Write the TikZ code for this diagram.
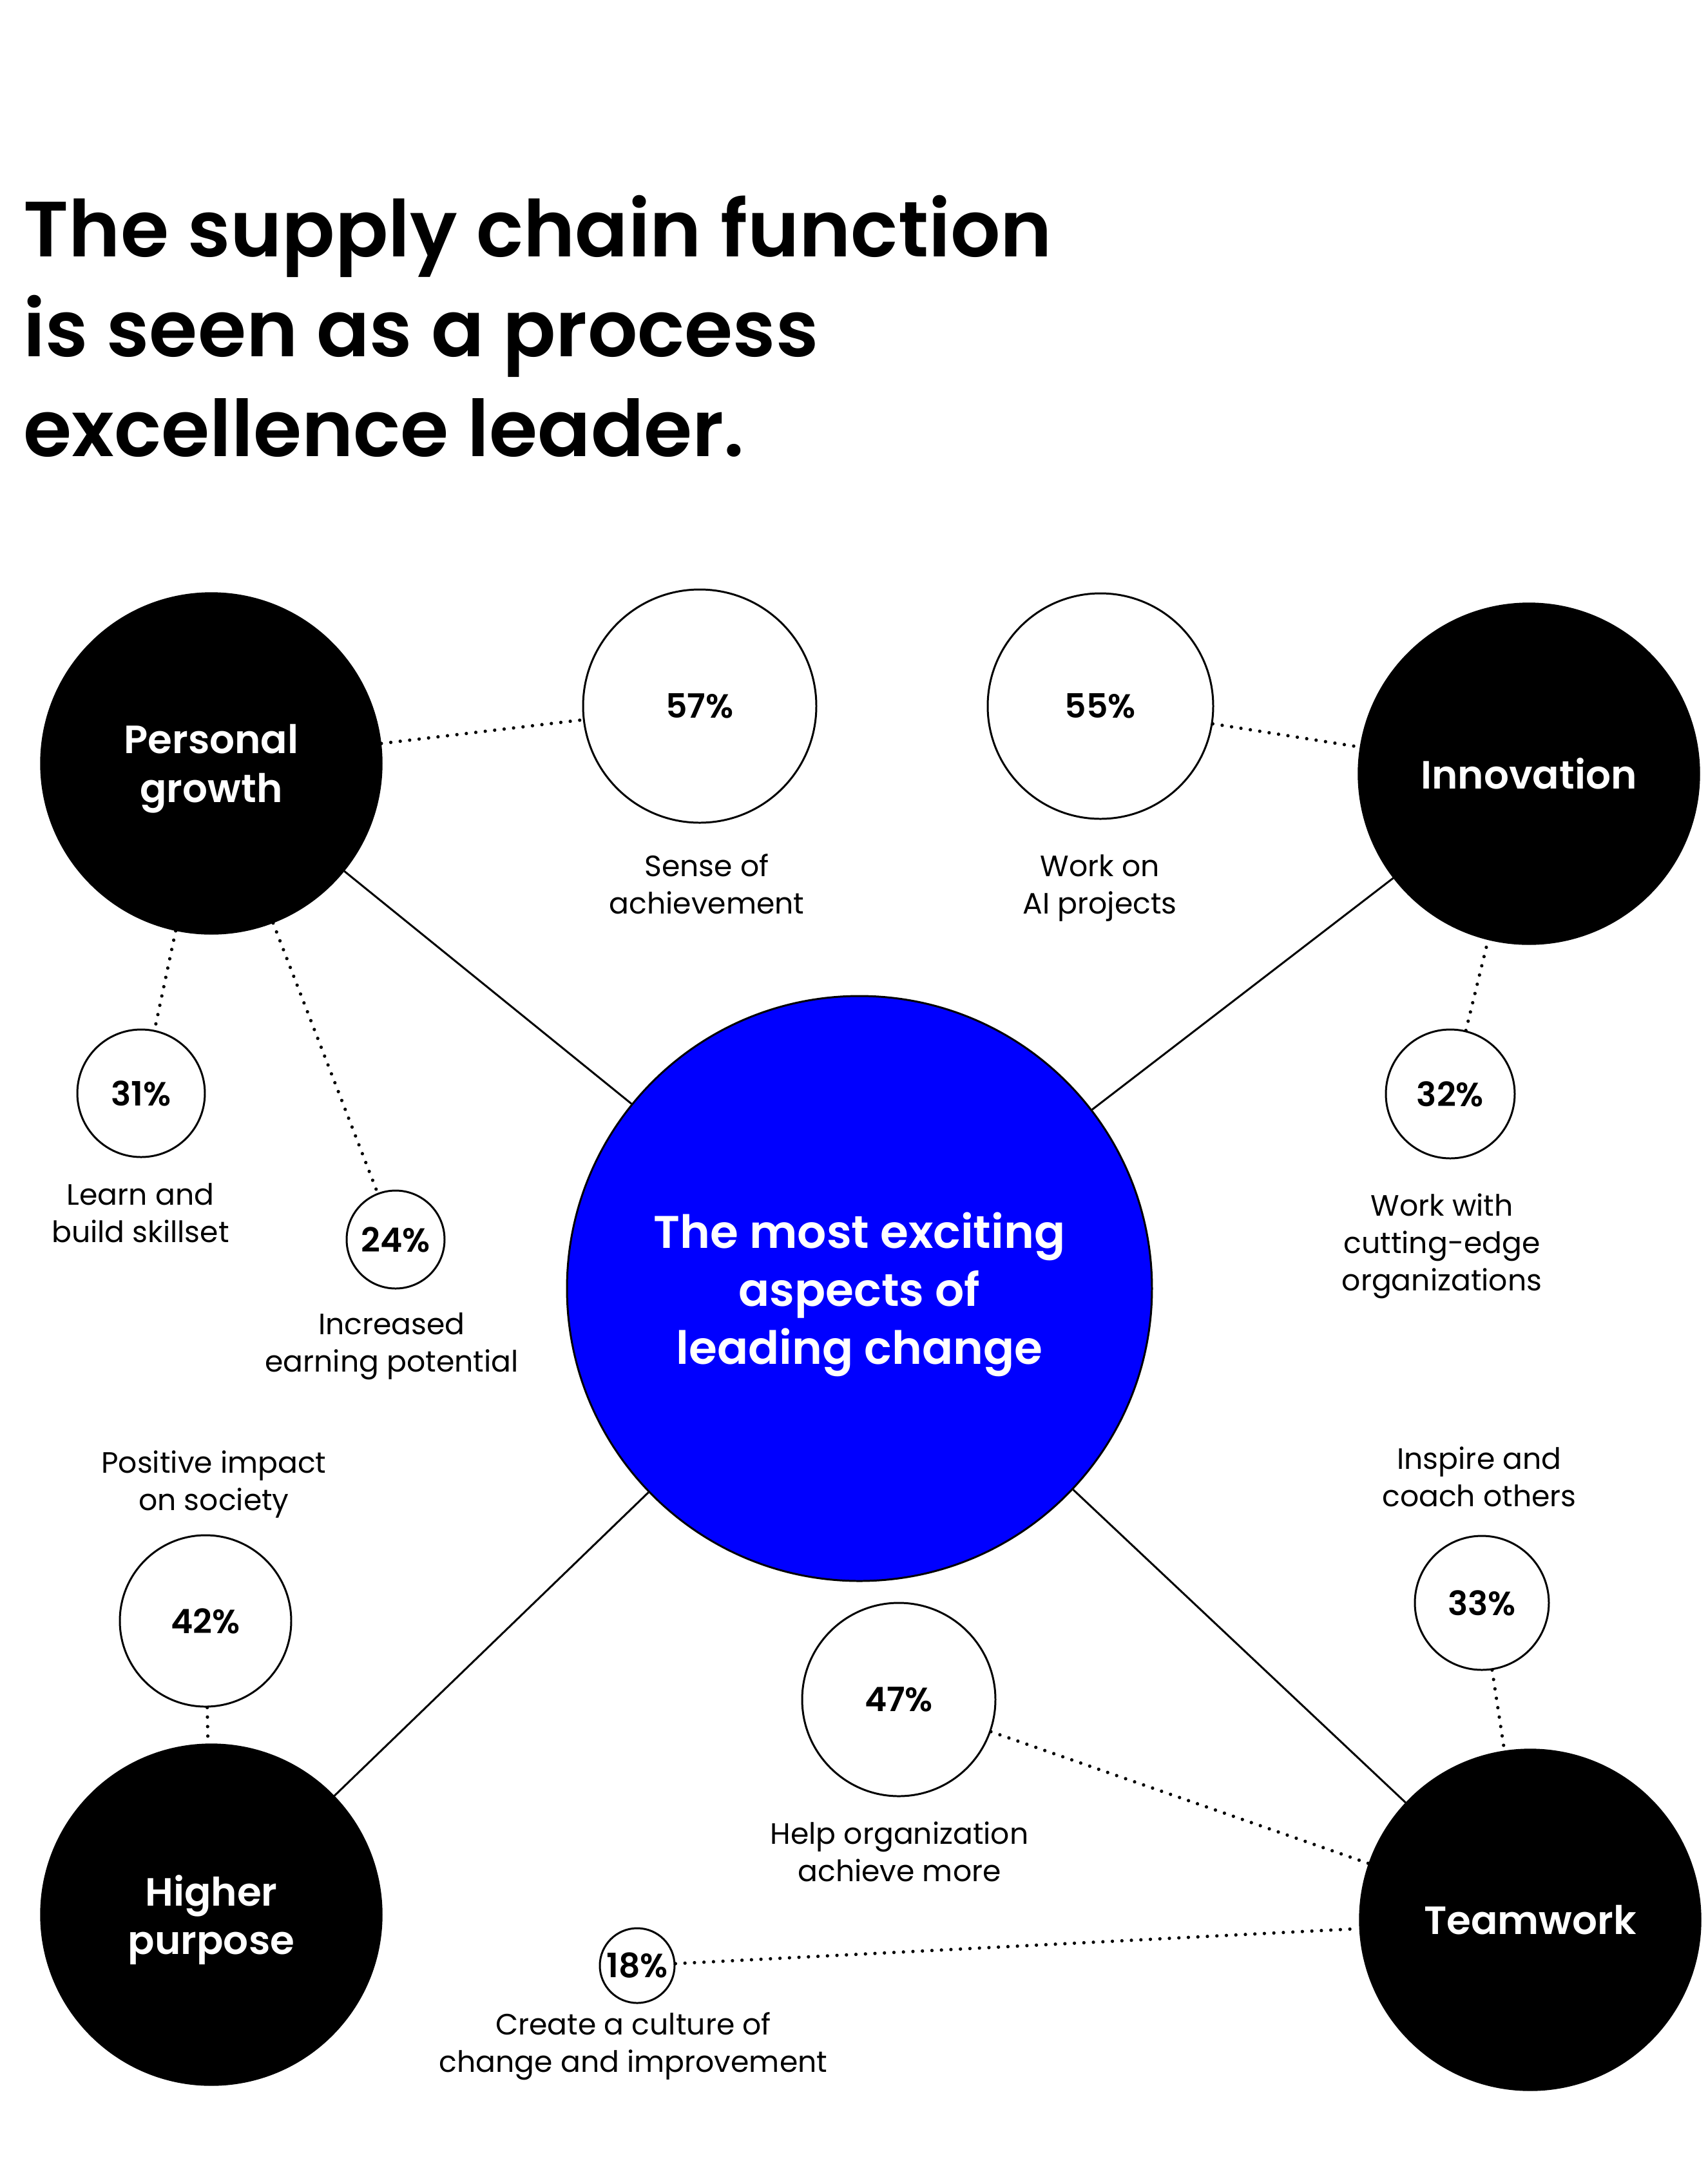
\documentclass[tikz,border=0pt]{standalone}
\usepackage{fontspec}
\setmainfont{Poppins}[BoldFont={Poppins SemiBold}]
\usepackage{xcolor}
\definecolor{HubBlue}{RGB}{0,0,255}
\tikzstyle{themeNode}=[circle,draw,fill=black,text=white,minimum size=5.3cm,inner sep=0pt,text depth=0pt,align=center,font=\bfseries\fontsize{17.4}{21.6}\selectfont]
\tikzstyle{hubNode}=[circle,draw=black,line width=0.85pt,fill=HubBlue,text=white,minimum size=9.08cm,inner sep=0pt,text depth=0pt,align=center,font=\bfseries\fontsize{20.2}{25.6}\selectfont]
\tikzstyle{statNode}=[circle,draw,line width=0.85pt,fill=white,inner sep=0pt,font=\bfseries\fontsize{14.8}{18}\selectfont]
\tikzstyle{captionNode}=[inner sep=0pt,text depth=0pt,align=center,font=\fontsize{13}{16.5}\selectfont]
\tikzstyle{spoke}=[line width=0.85pt]
\tikzstyle{dottedLink}=[line width=1.5pt,line cap=round,dash pattern=on 0pt off 4.2pt]

\begin{document}
\begin{tikzpicture}
    \fill[white] (0,0) rectangle (26.51,-33.59);
    \useasboundingbox (0,0) rectangle (26.51,-33.59);

    % Title
    \node[anchor=base west,inner sep=0pt,align=left,font=\bfseries\fontsize{34.6}{44.1}\selectfont] (title) at (0.36,-7.08) {The supply chain function\\is seen as a process\\excellence leader.};

    % Hub and themes
	\node[hubNode] (hub) at (13.34,-20.00) {The most exciting\\aspects of\\leading change};
	\node[themeNode] (growth) at (3.28,-11.85) {Personal\\growth};
	\node[themeNode] (innov) at (23.73,-12.01) {Innovation};
	\node[themeNode] (purpose) at (3.28,-29.72) {Higher\\purpose};
	\node[themeNode] (team) at (23.75,-29.80) {Teamwork};
	\draw[spoke] (growth) -- (hub);
	\draw[spoke] (innov) -- (hub);
	\draw[spoke] (purpose) -- (hub);
	\draw[spoke] (team) -- (hub);

    % Personal growth
	\node[statNode,minimum size=3.62cm] (s57) at (10.86,-10.96) {57\%};
	\node[captionNode] (c57) at (10.97,-13.72) {Sense of\\achievement};
	\node[statNode,minimum size=1.98cm] (s31) at (2.19,-16.97) {31\%};
	\node[captionNode] (c31) at (2.18,-18.83) {Learn and\\build skillset};
	\node[statNode,minimum size=1.52cm] (s24) at (6.14,-19.24) {24\%};
	\node[captionNode] (c24) at (6.08,-20.84) {Increased\\earning potential};
	\draw[dottedLink] (growth) -- (s57);
	\draw[dottedLink] (growth) -- (s31);
	\draw[dottedLink] (growth) -- (s24);

    % Innovation
	\node[statNode,minimum size=3.5cm] (s55) at (17.08,-10.96) {55\%};
	\node[captionNode] (c55) at (17.07,-13.73) {Work on\\AI projects};
	\node[statNode,minimum size=2.0cm] (s32) at (22.51,-16.98) {32\%};
	\node[captionNode] (c32) at (22.38,-19.28) {Work with\\cutting-edge\\organizations};
	\draw[dottedLink] (s55) -- (innov);
	\draw[dottedLink] (s32) -- (innov);

    % Higher purpose
	\node[statNode,minimum size=2.66cm] (s42) at (3.19,-25.16) {42\%};
	\node[captionNode] (c42) at (3.32,-22.98) {Positive impact\\on society};
	\draw[dottedLink] (s42) -- (purpose);

    % Teamwork
	\node[statNode,minimum size=2.08cm] (s33) at (23.0,-24.88) {33\%};
	\node[captionNode] (c33) at (22.96,-22.92) {Inspire and\\coach others};
	\node[statNode,minimum size=3.0cm] (s47) at (13.95,-26.38) {47\%};
	\node[captionNode] (c47) at (13.96,-28.74) {Help organization\\achieve more};
	\node[statNode,minimum size=1.16cm] (s18) at (9.89,-30.51) {18\%};
	\node[captionNode] (c18) at (9.83,-31.70) {Create a culture of\\change and improvement};
	\draw[dottedLink] (s33) -- (team);
	\draw[dottedLink] (s47) -- (team);
	\draw[dottedLink] (s18) -- (team);

\end{tikzpicture}
\end{document}
